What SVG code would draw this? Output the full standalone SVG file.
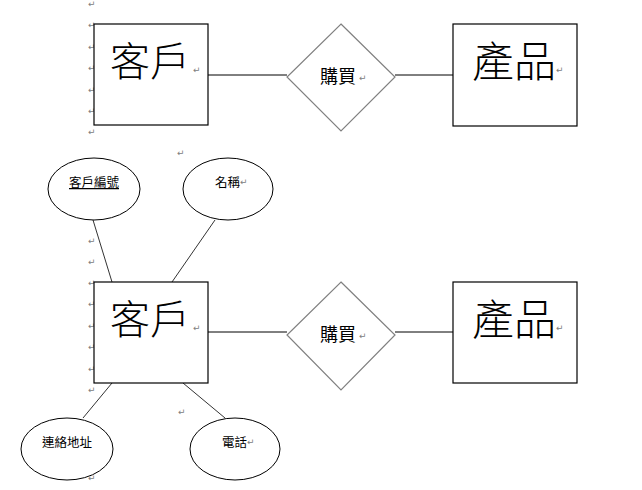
<svg xmlns="http://www.w3.org/2000/svg" width="642" height="490" viewBox="0 0 642 490">
<style>
.box{fill:#fff;stroke:#000;stroke-width:1.2}
.dia{fill:#fff;stroke:#808080;stroke-width:1.2}
.ell{fill:#fff;stroke:#000;stroke-width:1}
.ln{stroke:#000;stroke-width:1;fill:none}
.ln2{stroke:#333;stroke-width:1;fill:none}
.big{font-family:"Noto Sans CJK TC","Noto Sans CJK SC",sans-serif;font-size:40px;font-weight:300;fill:#000}
.mid{font-family:"Noto Sans CJK TC","Noto Sans CJK SC",sans-serif;font-size:18px;fill:#000}
.sm{font-family:"Noto Sans CJK TC","Noto Sans CJK SC",sans-serif;font-size:12.5px;fill:#000}
.pm{font-family:"DejaVu Sans",sans-serif;font-size:9px;fill:#808080}
</style>
<rect width="642" height="490" fill="#fff"/>
<g id="marks">
<text class="pm" x="88" y="7">↵</text>
<text class="pm" x="88" y="28">↵</text>
<text class="pm" x="88" y="50">↵</text>
<text class="pm" x="88" y="71">↵</text>
<text class="pm" x="88" y="93">↵</text>
<text class="pm" x="88" y="114">↵</text>
<text class="pm" x="88" y="135">↵</text>
<text class="pm" x="177" y="156">↵</text>
<text class="pm" x="88" y="244">↵</text>
<text class="pm" x="88" y="265">↵</text>
<text class="pm" x="88" y="286">↵</text>
<text class="pm" x="88" y="307">↵</text>
<text class="pm" x="88" y="329">↵</text>
<text class="pm" x="88" y="350">↵</text>
<text class="pm" x="88" y="372">↵</text>
<text class="pm" x="88" y="393">↵</text>
<text class="pm" x="178" y="415">↵</text>
<text class="pm" x="88" y="481">↵</text>
</g>
<g id="connectors">
<line class="ln" x1="208" y1="75" x2="287" y2="75"/>
<line class="ln" x1="395" y1="75" x2="453" y2="75"/>
<line class="ln" x1="208" y1="332" x2="287" y2="332"/>
<line class="ln" x1="395" y1="332" x2="453" y2="332"/>
<line class="ln2" x1="93" y1="220" x2="112" y2="282"/>
<line class="ln2" x1="215" y1="220" x2="172" y2="282"/>
<line class="ln2" x1="112" y1="383" x2="83" y2="418"/>
<line class="ln2" x1="183" y1="383" x2="225" y2="418"/>
</g>
<g id="customer1">
<rect class="box" x="94" y="24" width="114" height="101"/>
<text class="big" x="110" y="76">客戶</text>
<text class="pm" x="193" y="73">↵</text>
</g>
<g id="buy1">
<polygon class="dia" points="341,24 395,77 341,131 287,77"/>
<text class="mid" x="320" y="83">購買</text>
<text class="pm" x="359" y="81">↵</text>
</g>
<g id="product1">
<rect class="box" x="453" y="24" width="124" height="102"/>
<text class="big" x="472" y="77" style="font-size:42px">產品</text>
<text class="pm" x="556" y="73">↵</text>
</g>
<g id="customer2">
<rect class="box" x="94" y="282" width="114" height="101"/>
<text class="big" x="110" y="334">客戶</text>
<text class="pm" x="193" y="331">↵</text>
</g>
<g id="buy2">
<polygon class="dia" points="341,282 395,335 341,390 287,335"/>
<text class="mid" x="320" y="341">購買</text>
<text class="pm" x="359" y="339">↵</text>
</g>
<g id="product2">
<rect class="box" x="453" y="282" width="124" height="101"/>
<text class="big" x="472" y="335" style="font-size:42px">產品</text>
<text class="pm" x="556" y="331">↵</text>
</g>
<g id="attr-id">
<ellipse class="ell" cx="94" cy="189" rx="46" ry="31"/>
<text class="sm" x="69" y="187" text-decoration="underline">客戶編號</text>
</g>
<g id="attr-name">
<ellipse class="ell" cx="228" cy="189" rx="45" ry="31"/>
<text class="sm" x="215" y="187">名稱</text>
<text class="pm" x="240" y="185">↵</text>
</g>
<g id="attr-addr">
<ellipse class="ell" cx="67" cy="449" rx="46" ry="31"/>
<text class="sm" x="42" y="447">連絡地址</text>
</g>
<g id="attr-phone">
<ellipse class="ell" cx="235" cy="449" rx="45" ry="31"/>
<text class="sm" x="222" y="447">電話</text>
<text class="pm" x="247" y="445">↵</text>
</g>
</svg>
